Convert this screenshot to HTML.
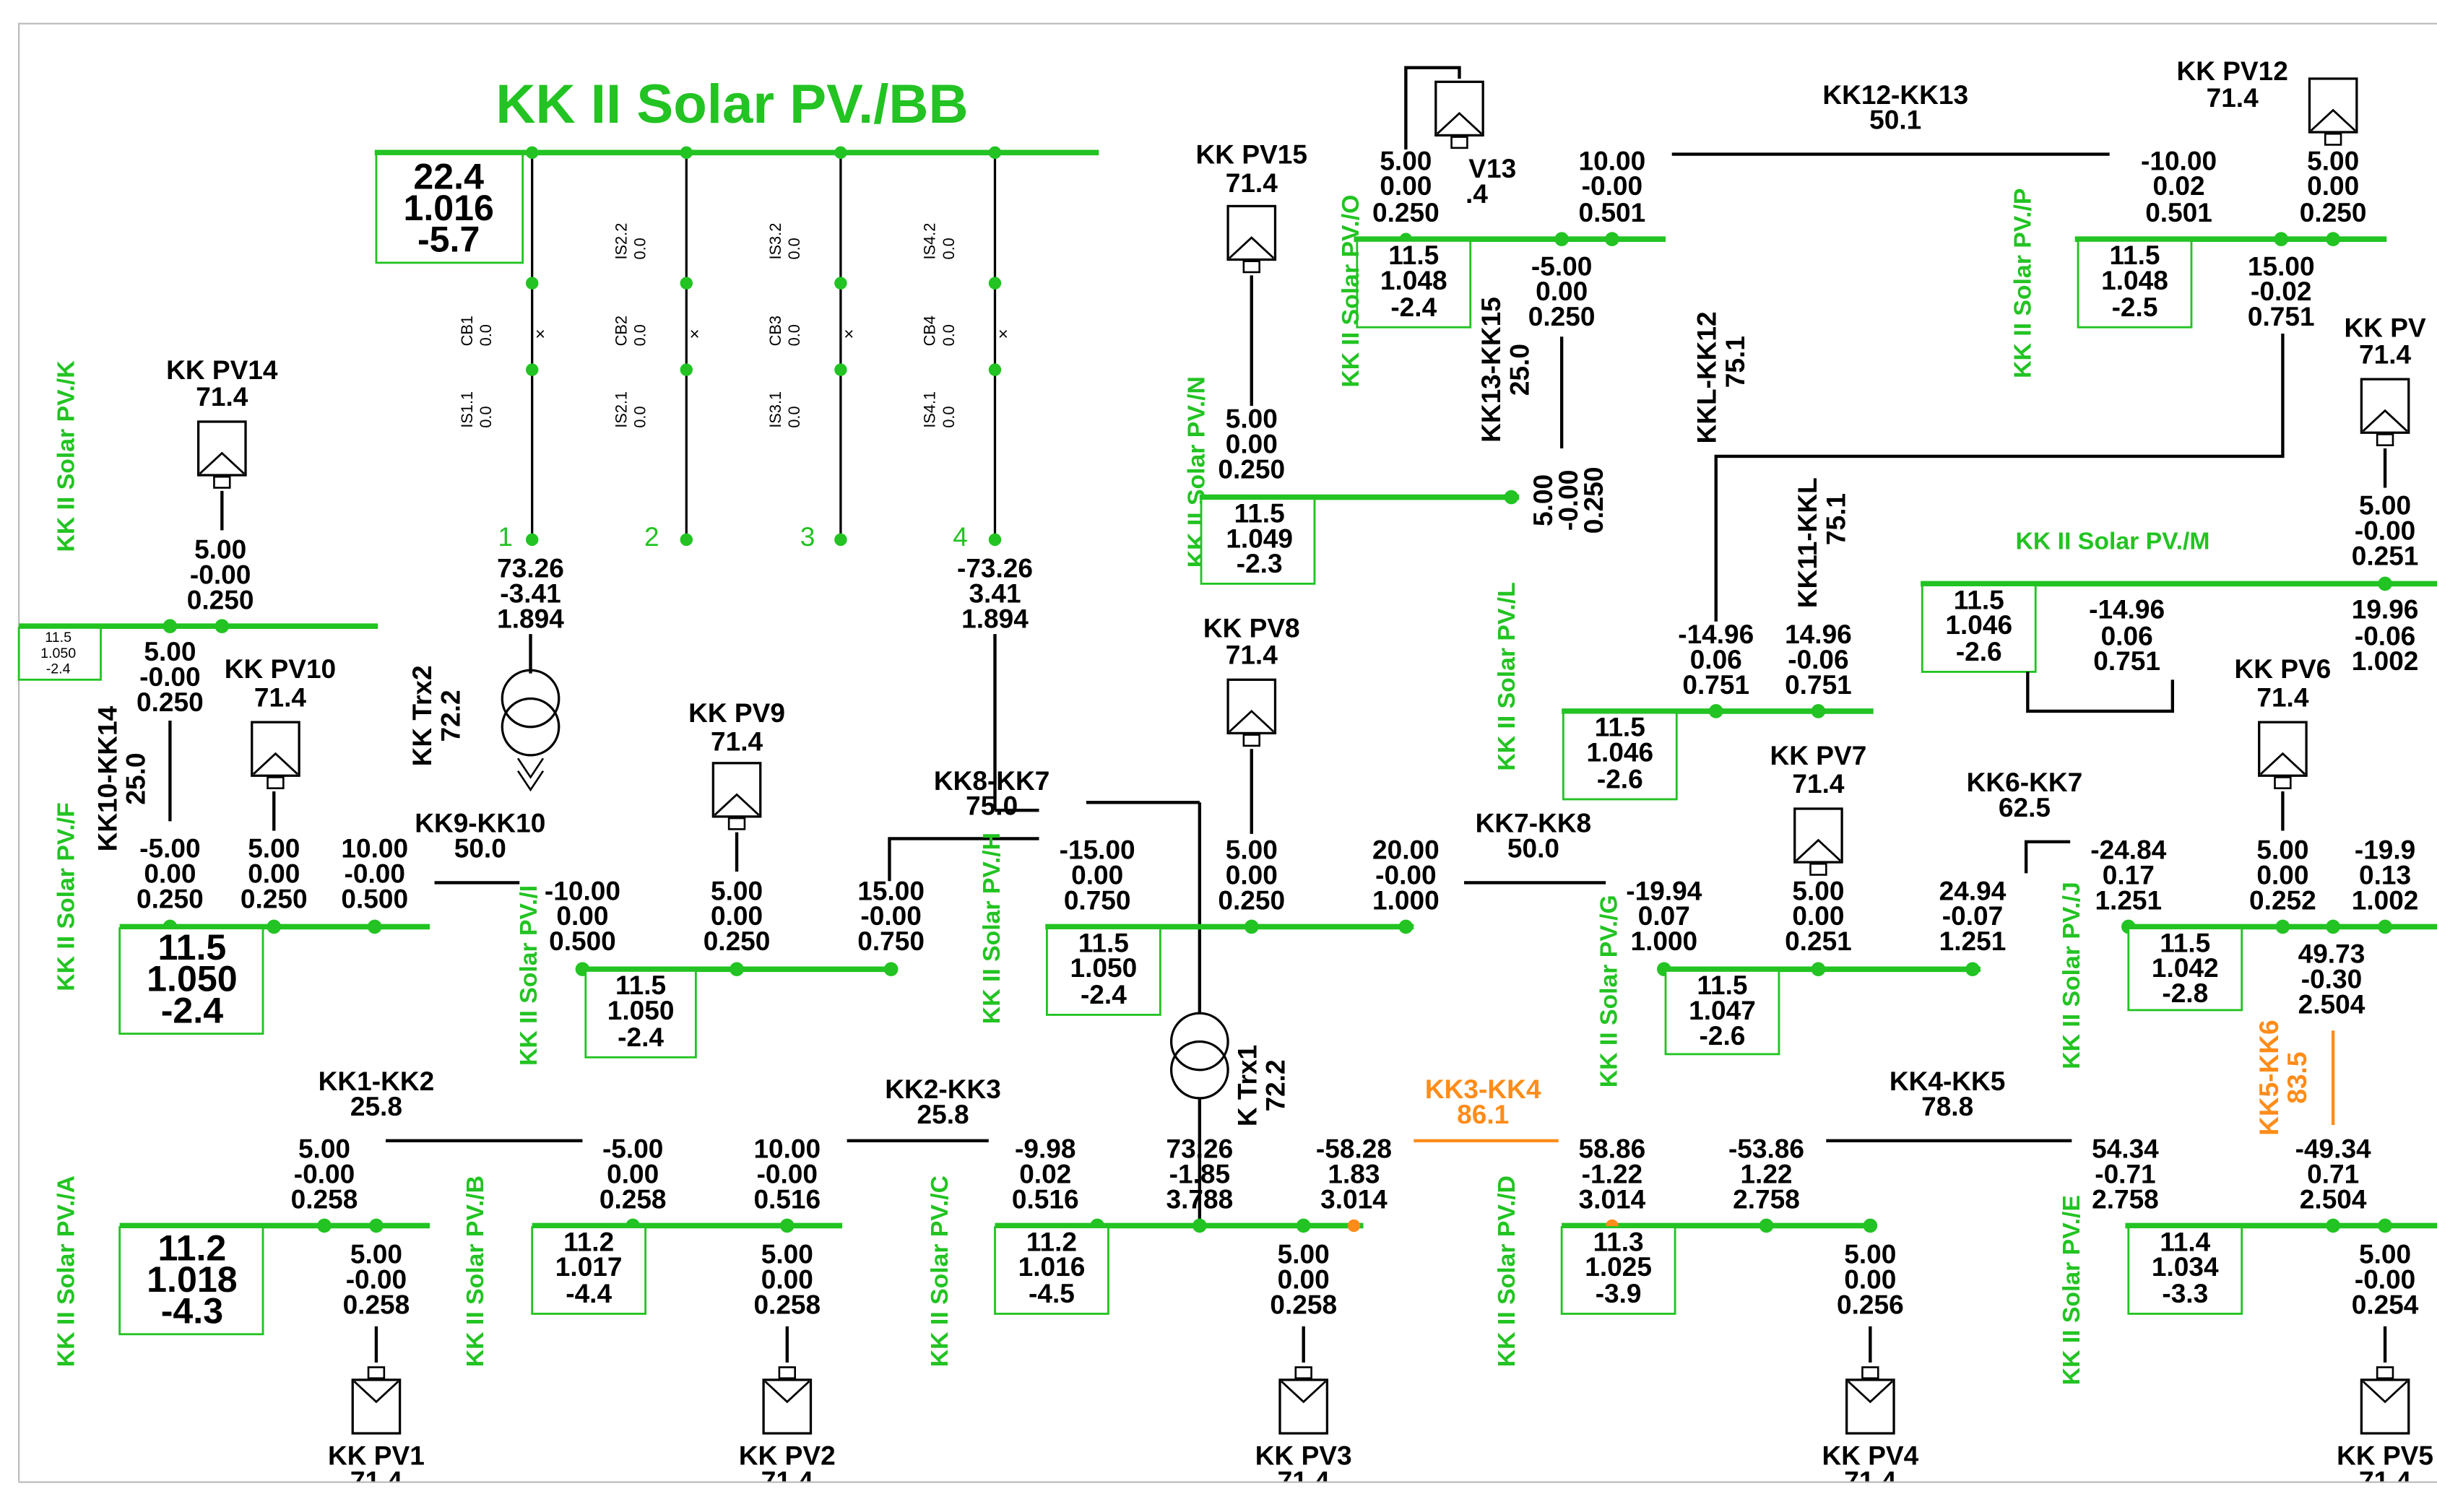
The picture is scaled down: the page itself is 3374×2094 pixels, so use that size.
<!DOCTYPE html>
<html><head><meta charset="utf-8"><style>
html,body{margin:0;padding:0;background:#fff}
svg{display:block}
.t{font-family:"Liberation Sans",sans-serif;font-weight:bold;font-size:17px;text-anchor:middle;fill:#000}
.b{font-size:23px}
.s{font-size:9px}
.g{fill:#22c322}
.o{fill:#ff8c1a}
.r{font-family:"Liberation Sans",sans-serif;font-size:11px;fill:#000}
.v{font-family:"Liberation Sans",sans-serif;font-weight:bold;font-size:15.5px;fill:#22c322;text-anchor:middle}
.bus{stroke:#22c322;stroke-width:3.5}
.k{stroke:#000;stroke-width:2;fill:none}
.bx{stroke:#22c322;stroke-width:1.3;fill:#fff}
.d{fill:#22c322}
</style></head><body>
<svg width="3374" height="2094" viewBox="0 0 1548 961" preserveAspectRatio="none" xmlns="http://www.w3.org/2000/svg">
<defs>
<g id="pv"><rect x="0" y="0" width="30" height="34" fill="#fff" stroke="#000" stroke-width="1.5"/><path d="M1,33 L15,20 L29,33" fill="none" stroke="#000" stroke-width="1.3"/><rect x="10" y="35" width="10" height="7" fill="#fff" stroke="#000" stroke-width="1.2"/></g>
</defs>
<rect x="12" y="15" width="1540" height="927" fill="none" stroke="#bbb" stroke-width="1"/>
<text class="t g" x="465" y="78" style="font-size:35px">KK II Solar PV./BB</text>
<!-- top bus BB -->
<line class="bus" x1="238" y1="97" x2="698" y2="97"/>
<rect class="bx" x="239" y="98" width="93" height="69"/>
<text class="t b" x="285" y="120">22.4</text><text class="t b" x="285" y="140">1.016</text><text class="t b" x="285" y="160">-5.7</text>
<g class="k" style="stroke-width:1.5">
<line x1="338" y1="97" x2="338" y2="343"/><line x1="436" y1="97" x2="436" y2="343"/><line x1="534" y1="97" x2="534" y2="343"/><line x1="632" y1="97" x2="632" y2="343"/>
</g>
<g class="d">
<circle cx="338" cy="97" r="4"/><circle cx="436" cy="97" r="4"/><circle cx="534" cy="97" r="4"/><circle cx="632" cy="97" r="4"/>
<circle cx="338" cy="180" r="4"/><circle cx="436" cy="180" r="4"/><circle cx="534" cy="180" r="4"/><circle cx="632" cy="180" r="4"/>
<circle cx="338" cy="235" r="4"/><circle cx="436" cy="235" r="4"/><circle cx="534" cy="235" r="4"/><circle cx="632" cy="235" r="4"/>
<circle cx="338" cy="343" r="4"/><circle cx="436" cy="343" r="4"/><circle cx="534" cy="343" r="4"/><circle cx="632" cy="343" r="4"/>
</g>
<g class="r"><text x="340" y="216">×</text><text x="438" y="216">×</text><text x="536" y="216">×</text><text x="634" y="216">×</text></g>
<g class="r" style="font-size:10px">
<text transform="translate(300,220) rotate(-90)">CB1</text><text transform="translate(312,220) rotate(-90)">0.0</text>
<text transform="translate(398,220) rotate(-90)">CB2</text><text transform="translate(410,220) rotate(-90)">0.0</text>
<text transform="translate(496,220) rotate(-90)">CB3</text><text transform="translate(508,220) rotate(-90)">0.0</text>
<text transform="translate(594,220) rotate(-90)">CB4</text><text transform="translate(606,220) rotate(-90)">0.0</text>
<text transform="translate(398,165) rotate(-90)">IS2.2</text><text transform="translate(410,165) rotate(-90)">0.0</text>
<text transform="translate(496,165) rotate(-90)">IS3.2</text><text transform="translate(508,165) rotate(-90)">0.0</text>
<text transform="translate(594,165) rotate(-90)">IS4.2</text><text transform="translate(606,165) rotate(-90)">0.0</text>
<text transform="translate(300,272) rotate(-90)">IS1.1</text><text transform="translate(312,272) rotate(-90)">0.0</text>
<text transform="translate(398,272) rotate(-90)">IS2.1</text><text transform="translate(410,272) rotate(-90)">0.0</text>
<text transform="translate(496,272) rotate(-90)">IS3.1</text><text transform="translate(508,272) rotate(-90)">0.0</text>
<text transform="translate(594,272) rotate(-90)">IS4.1</text><text transform="translate(606,272) rotate(-90)">0.0</text>
</g>
<text class="t g" x="321" y="347" style="font-weight:normal">1</text><text class="t g" x="414" y="347" style="font-weight:normal">2</text><text class="t g" x="513" y="347" style="font-weight:normal">3</text><text class="t g" x="610" y="347" style="font-weight:normal">4</text>
<text class="t" x="337" y="367">73.26</text><text class="t" x="337" y="383">-3.41</text><text class="t" x="337" y="399">1.894</text>
<text class="t" x="632" y="367">-73.26</text><text class="t" x="632" y="383">3.41</text><text class="t" x="632" y="399">1.894</text>
<!-- Trx2 -->
<line class="k" x1="337" y1="403" x2="337" y2="428"/>
<circle cx="337" cy="444" r="18" fill="none" stroke="#000" stroke-width="1.5"/><circle cx="337" cy="462" r="18" fill="none" stroke="#000" stroke-width="1.5"/>
<path d="M329,482 L337,494 L345,482 M329,490 L337,502 L345,490" fill="none" stroke="#000" stroke-width="1.2"/>
<text class="t" transform="translate(274,455) rotate(-90)">KK Trx2</text><text class="t" transform="translate(292,455) rotate(-90)">72.2</text>
<!-- KK8-KK7 -->
<path class="k" d="M632,403 L632,515 M632,515 L660,515 M565,560 L565,533 L660,533 M762,510 L762,645 M762,698 L762,779 M690,510 L762,510"/>
<text class="t" x="630" y="502">KK8-KK7</text><text class="t" x="630" y="518">75.0</text>
<circle cx="762" cy="662" r="18" fill="#fff" stroke="#000" stroke-width="1.5"/><circle cx="762" cy="680" r="18" fill="none" stroke="#000" stroke-width="1.5"/>
<text class="t" transform="translate(798,690) rotate(-90)">K Trx1</text><text class="t" transform="translate(816,690) rotate(-90)">72.2</text>

<!-- Left K -->
<text class="v" transform="translate(47,290) rotate(-90)">KK II Solar PV./K</text>
<text class="t" x="141" y="241">KK PV14</text><text class="t" x="141" y="258">71.4</text>
<use href="#pv" x="126" y="268"/><line class="k" x1="141" y1="312" x2="141" y2="337"/>
<text class="t" x="140" y="355">5.00</text><text class="t" x="140" y="371">-0.00</text><text class="t" x="140" y="387">0.250</text>
<line class="bus" x1="12" y1="398" x2="240" y2="398"/><circle class="d" cx="108" cy="398" r="4.5"/><circle class="d" cx="141" cy="398" r="4.5"/>
<rect class="bx" x="12" y="399" width="52" height="33"/>
<text class="t s" x="37" y="408" style="font-weight:normal">11.5</text><text class="t s" x="37" y="418" style="font-weight:normal">1.050</text><text class="t s" x="37" y="428" style="font-weight:normal">-2.4</text>
<text class="t" x="108" y="420">5.00</text><text class="t" x="108" y="436">-0.00</text><text class="t" x="108" y="452">0.250</text>
<line class="k" x1="108" y1="458" x2="108" y2="522"/>
<text class="t" transform="translate(74,495) rotate(-90)">KK10-KK14</text><text class="t" transform="translate(92,495) rotate(-90)">25.0</text>
<text class="t" x="178" y="431">KK PV10</text><text class="t" x="178" y="449">71.4</text>
<use href="#pv" x="160" y="459"/><line class="k" x1="174" y1="503" x2="174" y2="528"/>
<text class="t" x="108" y="545">-5.00</text><text class="t" x="108" y="561">0.00</text><text class="t" x="108" y="577">0.250</text>
<text class="t" x="174" y="545">5.00</text><text class="t" x="174" y="561">0.00</text><text class="t" x="174" y="577">0.250</text>
<text class="t" x="238" y="545">10.00</text><text class="t" x="238" y="561">-0.00</text><text class="t" x="238" y="577">0.500</text>
<text class="t" x="305" y="529">KK9-KK10</text><text class="t" x="305" y="545">50.0</text>
<line class="k" x1="276" y1="561" x2="330" y2="561"/>
<line class="bus" x1="76" y1="589" x2="273" y2="589"/>
<circle class="d" cx="108" cy="589" r="4.5"/><circle class="d" cx="174" cy="589" r="4.5"/><circle class="d" cx="238" cy="589" r="4.5"/>
<rect class="bx" x="76" y="590" width="91" height="67"/>
<text class="t b" x="122" y="610">11.5</text><text class="t b" x="122" y="630">1.050</text><text class="t b" x="122" y="650">-2.4</text>
<text class="v" transform="translate(47,570) rotate(-90)">KK II Solar PV./F</text>

<!-- I -->
<text class="v" transform="translate(341,620) rotate(-90)">KK II Solar PV./I</text>
<text class="t" x="468" y="459">KK PV9</text><text class="t" x="468" y="477">71.4</text>
<use href="#pv" x="453" y="485"/><line class="k" x1="468" y1="529" x2="468" y2="554"/>
<text class="t" x="370" y="572">-10.00</text><text class="t" x="370" y="588">0.00</text><text class="t" x="370" y="604">0.500</text>
<text class="t" x="468" y="572">5.00</text><text class="t" x="468" y="588">0.00</text><text class="t" x="468" y="604">0.250</text>
<text class="t" x="566" y="572">15.00</text><text class="t" x="566" y="588">-0.00</text><text class="t" x="566" y="604">0.750</text>
<line class="bus" x1="368" y1="616" x2="570" y2="616"/>
<circle class="d" cx="370" cy="616" r="4.5"/><circle class="d" cx="468" cy="616" r="4.5"/><circle class="d" cx="566" cy="616" r="4.5"/>
<rect class="bx" x="372" y="617" width="70" height="55"/>
<text class="t" x="407" y="632">11.5</text><text class="t" x="407" y="648">1.050</text><text class="t" x="407" y="665">-2.4</text>

<!-- H -->
<text class="v" transform="translate(635,590) rotate(-90)">KK II Solar PV./H</text>
<text class="t" x="795" y="405">KK PV8</text><text class="t" x="795" y="422">71.4</text>
<use href="#pv" x="780" y="432"/><line class="k" x1="795" y1="476" x2="795" y2="530"/>
<text class="t" x="697" y="546">-15.00</text><text class="t" x="697" y="562">0.00</text><text class="t" x="697" y="578">0.750</text>
<text class="t" x="795" y="546">5.00</text><text class="t" x="795" y="562">0.00</text><text class="t" x="795" y="578">0.250</text>
<text class="t" x="893" y="546">20.00</text><text class="t" x="893" y="562">-0.00</text><text class="t" x="893" y="578">1.000</text>
<line class="bus" x1="664" y1="589" x2="898" y2="589"/>
<circle class="d" cx="795" cy="589" r="4.5"/><circle class="d" cx="893" cy="589" r="4.5"/>
<rect class="bx" x="665" y="590" width="72" height="55"/>
<text class="t" x="701" y="605">11.5</text><text class="t" x="701" y="621">1.050</text><text class="t" x="701" y="638">-2.4</text>

<!-- N -->
<text class="v" transform="translate(765,300) rotate(-90)">KK II Solar PV./N</text>
<text class="t" x="795" y="104">KK PV15</text><text class="t" x="795" y="122">71.4</text>
<use href="#pv" x="780" y="131"/><line class="k" x1="795" y1="175" x2="795" y2="258"/>
<text class="t" x="795" y="272">5.00</text><text class="t" x="795" y="288">0.00</text><text class="t" x="795" y="304">0.250</text>
<line class="bus" x1="762" y1="316" x2="965" y2="316"/><circle class="d" cx="960" cy="316" r="4.5"/>
<rect class="bx" x="763" y="317" width="72" height="54"/>
<text class="t" x="800" y="332">11.5</text><text class="t" x="800" y="348">1.049</text><text class="t" x="800" y="364">-2.3</text>
<text class="t" transform="translate(986,318) rotate(-90)">5.00</text><text class="t" transform="translate(1002,318) rotate(-90)">-0.00</text><text class="t" transform="translate(1018,318) rotate(-90)">0.250</text>

<!-- O top middle -->
<path class="k" d="M893,95 L893,43 L927,43 L927,50"/>
<use href="#pv" x="912" y="52"/>
<text class="t" x="893" y="108">5.00</text><text class="t" x="893" y="124">0.00</text><text class="t" x="893" y="141">0.250</text>
<text class="t" x="948" y="113">V13</text><text class="t" x="938" y="129">.4</text>
<text class="t" x="1024" y="108">10.00</text><text class="t" x="1024" y="124">-0.00</text><text class="t" x="1024" y="141">0.501</text>
<line class="bus" x1="860" y1="152" x2="1058" y2="152"/>
<circle class="d" cx="992" cy="152" r="4.5"/><circle class="d" cx="1024" cy="152" r="4.5"/><circle class="d" cx="893" cy="152" r="4"/>
<rect class="bx" x="862" y="153" width="72" height="55"/>
<text class="t" x="898" y="168">11.5</text><text class="t" x="898" y="184">1.048</text><text class="t" x="898" y="201">-2.4</text>
<text class="v" transform="translate(863,185) rotate(-90)">KK II Solar PV./O</text>
<text class="t" x="992" y="175">-5.00</text><text class="t" x="992" y="191">0.00</text><text class="t" x="992" y="207">0.250</text>
<line class="k" x1="992" y1="214" x2="992" y2="285"/>
<text class="t" transform="translate(953,235) rotate(-90)">KK13-KK15</text><text class="t" transform="translate(971,235) rotate(-90)">25.0</text>
<text class="t" x="1204" y="66">KK12-KK13</text><text class="t" x="1204" y="82">50.1</text>
<line class="k" x1="1062" y1="98" x2="1340" y2="98"/>

<!-- P -->
<text class="t" x="1418" y="51">KK PV12</text><text class="t" x="1418" y="68">71.4</text>
<use href="#pv" x="1467" y="50"/>
<text class="t" x="1384" y="108">-10.00</text><text class="t" x="1384" y="124">0.02</text><text class="t" x="1384" y="141">0.501</text>
<text class="t" x="1482" y="108">5.00</text><text class="t" x="1482" y="124">0.00</text><text class="t" x="1482" y="141">0.250</text>
<line class="bus" x1="1318" y1="152" x2="1516" y2="152"/>
<circle class="d" cx="1449" cy="152" r="4.5"/><circle class="d" cx="1482" cy="152" r="4.5"/>
<rect class="bx" x="1320" y="153" width="72" height="55"/>
<text class="t" x="1356" y="168">11.5</text><text class="t" x="1356" y="184">1.048</text><text class="t" x="1356" y="201">-2.5</text>
<text class="t" x="1449" y="175">15.00</text><text class="t" x="1449" y="191">-0.02</text><text class="t" x="1449" y="207">0.751</text>
<text class="v" transform="translate(1290,180) rotate(-90)">KK II Solar PV./P</text>
<path class="k" d="M1450,212 L1450,290 L1090,290 L1090,395"/>
<text class="t" transform="translate(1090,240) rotate(-90)">KKL-KK12</text><text class="t" transform="translate(1108,230) rotate(-90)">75.1</text>
<text class="t" transform="translate(1154,345) rotate(-90)">KK11-KKL</text><text class="t" transform="translate(1172,330) rotate(-90)">75.1</text>

<!-- L -->
<text class="v" transform="translate(962,430) rotate(-90)">KK II Solar PV./L</text>
<text class="t" x="1090" y="409">-14.96</text><text class="t" x="1090" y="425">0.06</text><text class="t" x="1090" y="441">0.751</text>
<text class="t" x="1155" y="409">14.96</text><text class="t" x="1155" y="425">-0.06</text><text class="t" x="1155" y="441">0.751</text>
<line class="bus" x1="992" y1="452" x2="1190" y2="452"/>
<circle class="d" cx="1090" cy="452" r="4.5"/><circle class="d" cx="1155" cy="452" r="4.5"/>
<rect class="bx" x="993" y="453" width="72" height="55"/>
<text class="t" x="1029" y="468">11.5</text><text class="t" x="1029" y="484">1.046</text><text class="t" x="1029" y="501">-2.6</text>

<!-- M -->
<text class="t" x="1515" y="214">KK PV</text><text class="t" x="1515" y="231">71.4</text>
<use href="#pv" x="1500" y="241"/><line class="k" x1="1515" y1="285" x2="1515" y2="310"/>
<text class="t" x="1515" y="327">5.00</text><text class="t" x="1515" y="343">-0.00</text><text class="t" x="1515" y="359">0.251</text>
<text class="v" x="1342" y="349">KK II Solar PV./M</text>
<line class="bus" x1="1220" y1="371" x2="1548" y2="371"/><circle class="d" cx="1515" cy="371" r="4.5"/>
<rect class="bx" x="1221" y="372" width="72" height="55"/>
<text class="t" x="1257" y="387">11.5</text><text class="t" x="1257" y="403">1.046</text><text class="t" x="1257" y="420">-2.6</text>
<text class="t" x="1351" y="393">-14.96</text><text class="t" x="1351" y="410">0.06</text><text class="t" x="1351" y="426">0.751</text>
<text class="t" x="1515" y="393">19.96</text><text class="t" x="1515" y="410">-0.06</text><text class="t" x="1515" y="426">1.002</text>
<path class="k" d="M1288,427 L1288,452 L1380,452 L1380,432"/>

<!-- G -->
<text class="t" x="974" y="529">KK7-KK8</text><text class="t" x="974" y="545">50.0</text>
<line class="k" x1="930" y1="561" x2="1020" y2="561"/>
<text class="v" transform="translate(1027,630) rotate(-90)">KK II Solar PV./G</text>
<text class="t" x="1155" y="486">KK PV7</text><text class="t" x="1155" y="504">71.4</text>
<use href="#pv" x="1140" y="514"/>
<text class="t" x="1057" y="572">-19.94</text><text class="t" x="1057" y="588">0.07</text><text class="t" x="1057" y="604">1.000</text>
<text class="t" x="1155" y="572">5.00</text><text class="t" x="1155" y="588">0.00</text><text class="t" x="1155" y="604">0.251</text>
<text class="t" x="1253" y="572">24.94</text><text class="t" x="1253" y="588">-0.07</text><text class="t" x="1253" y="604">1.251</text>
<line class="bus" x1="1055" y1="616" x2="1258" y2="616"/>
<circle class="d" cx="1057" cy="616" r="4.5"/><circle class="d" cx="1155" cy="616" r="4.5"/><circle class="d" cx="1253" cy="616" r="4.5"/>
<rect class="bx" x="1058" y="617" width="72" height="53"/>
<text class="t" x="1094" y="632">11.5</text><text class="t" x="1094" y="648">1.047</text><text class="t" x="1094" y="664">-2.6</text>

<!-- K6 region -->
<text class="t" x="1286" y="503">KK6-KK7</text><text class="t" x="1286" y="519">62.5</text>
<path class="k" d="M1287,555 L1287,535 L1315,535"/>
<text class="v" transform="translate(1321,620) rotate(-90)">KK II Solar PV./J</text>
<text class="t" x="1450" y="431">KK PV6</text><text class="t" x="1450" y="449">71.4</text>
<use href="#pv" x="1435" y="459"/><line class="k" x1="1450" y1="503" x2="1450" y2="528"/>
<text class="t" x="1352" y="546">-24.84</text><text class="t" x="1352" y="562">0.17</text><text class="t" x="1352" y="578">1.251</text>
<text class="t" x="1450" y="546">5.00</text><text class="t" x="1450" y="562">0.00</text><text class="t" x="1450" y="578">0.252</text>
<text class="t" x="1515" y="546">-19.9</text><text class="t" x="1515" y="562">0.13</text><text class="t" x="1515" y="578">1.002</text>
<line class="bus" x1="1350" y1="589" x2="1548" y2="589"/>
<circle class="d" cx="1352" cy="589" r="4.5"/><circle class="d" cx="1450" cy="589" r="4.5"/><circle class="d" cx="1482" cy="589" r="4.5"/><circle class="d" cx="1515" cy="589" r="4.5"/>
<rect class="bx" x="1352" y="590" width="72" height="52"/>
<text class="t" x="1388" y="605">11.5</text><text class="t" x="1388" y="621">1.042</text><text class="t" x="1388" y="637">-2.8</text>
<text class="t" x="1481" y="612">49.73</text><text class="t" x="1481" y="628">-0.30</text><text class="t" x="1481" y="644">2.504</text>
<text class="t o" transform="translate(1447,685) rotate(-90)">KK5-KK6</text><text class="t o" transform="translate(1465,685) rotate(-90)">83.5</text>
<line x1="1482" y1="655" x2="1482" y2="715" stroke="#ff8c1a" stroke-width="2"/>

<!-- bottom row -->
<text class="t" x="239" y="693">KK1-KK2</text><text class="t" x="239" y="709">25.8</text>
<line class="k" x1="245" y1="725" x2="370" y2="725"/>
<text class="t" x="599" y="698">KK2-KK3</text><text class="t" x="599" y="714">25.8</text>
<line class="k" x1="538" y1="725" x2="628" y2="725"/>
<text class="t o" x="942" y="698">KK3-KK4</text><text class="t o" x="942" y="714">86.1</text>
<line x1="898" y1="725" x2="990" y2="725" stroke="#ff8c1a" stroke-width="2"/>
<text class="t" x="1237" y="693">KK4-KK5</text><text class="t" x="1237" y="709">78.8</text>
<line class="k" x1="1160" y1="725" x2="1316" y2="725"/>

<text class="t" x="206" y="736">5.00</text><text class="t" x="206" y="752">-0.00</text><text class="t" x="206" y="768">0.258</text>
<text class="t" x="402" y="736">-5.00</text><text class="t" x="402" y="752">0.00</text><text class="t" x="402" y="768">0.258</text>
<text class="t" x="500" y="736">10.00</text><text class="t" x="500" y="752">-0.00</text><text class="t" x="500" y="768">0.516</text>
<text class="t" x="664" y="736">-9.98</text><text class="t" x="664" y="752">0.02</text><text class="t" x="664" y="768">0.516</text>
<text class="t" x="762" y="736">73.26</text><text class="t" x="762" y="752">-1.85</text><text class="t" x="762" y="768">3.788</text>
<text class="t" x="860" y="736">-58.28</text><text class="t" x="860" y="752">1.83</text><text class="t" x="860" y="768">3.014</text>
<text class="t" x="1024" y="736">58.86</text><text class="t" x="1024" y="752">-1.22</text><text class="t" x="1024" y="768">3.014</text>
<text class="t" x="1122" y="736">-53.86</text><text class="t" x="1122" y="752">1.22</text><text class="t" x="1122" y="768">2.758</text>
<text class="t" x="1350" y="736">54.34</text><text class="t" x="1350" y="752">-0.71</text><text class="t" x="1350" y="768">2.758</text>
<text class="t" x="1482" y="736">-49.34</text><text class="t" x="1482" y="752">0.71</text><text class="t" x="1482" y="768">2.504</text>

<line class="bus" x1="76" y1="779" x2="273" y2="779"/>
<line class="bus" x1="338" y1="779" x2="535" y2="779"/>
<line class="bus" x1="632" y1="779" x2="866" y2="779"/>
<line class="bus" x1="992" y1="779" x2="1190" y2="779"/>
<line class="bus" x1="1350" y1="779" x2="1548" y2="779"/>
<g class="d">
<circle cx="206" cy="779" r="4.5"/><circle cx="239" cy="779" r="4.5"/><circle cx="402" cy="779" r="4.5"/><circle cx="500" cy="779" r="4.5"/>
<circle cx="697" cy="779" r="4.5"/><circle cx="762" cy="779" r="4.5"/><circle cx="828" cy="779" r="4.5"/>
<circle cx="1122" cy="779" r="4.5"/><circle cx="1188" cy="779" r="4.5"/><circle cx="1482" cy="779" r="4.5"/><circle cx="1515" cy="779" r="4.5"/>
</g>
<circle cx="860" cy="779" r="4" fill="#ff8c1a"/><circle cx="1024" cy="779" r="4" fill="#ff8c1a"/>
<rect class="bx" x="76" y="780" width="91" height="68"/>
<text class="t b" x="122" y="801">11.2</text><text class="t b" x="122" y="821">1.018</text><text class="t b" x="122" y="841">-4.3</text>
<rect class="bx" x="338" y="780" width="72" height="55"/>
<text class="t" x="374" y="795">11.2</text><text class="t" x="374" y="811">1.017</text><text class="t" x="374" y="828">-4.4</text>
<rect class="bx" x="632" y="780" width="72" height="55"/>
<text class="t" x="668" y="795">11.2</text><text class="t" x="668" y="811">1.016</text><text class="t" x="668" y="828">-4.5</text>
<rect class="bx" x="992" y="780" width="72" height="55"/>
<text class="t" x="1028" y="795">11.3</text><text class="t" x="1028" y="811">1.025</text><text class="t" x="1028" y="828">-3.9</text>
<rect class="bx" x="1352" y="780" width="72" height="55"/>
<text class="t" x="1388" y="795">11.4</text><text class="t" x="1388" y="811">1.034</text><text class="t" x="1388" y="828">-3.3</text>

<text class="v" transform="translate(47,808) rotate(-90)">KK II Solar PV./A</text>
<text class="v" transform="translate(307,808) rotate(-90)">KK II Solar PV./B</text>
<text class="v" transform="translate(602,808) rotate(-90)">KK II Solar PV./C</text>
<text class="v" transform="translate(962,808) rotate(-90)">KK II Solar PV./D</text>
<text class="v" transform="translate(1321,820) rotate(-90)">KK II Solar PV./E</text>

<text class="t" x="239" y="803">5.00</text><text class="t" x="239" y="819">-0.00</text><text class="t" x="239" y="835">0.258</text>
<text class="t" x="500" y="803">5.00</text><text class="t" x="500" y="819">0.00</text><text class="t" x="500" y="835">0.258</text>
<text class="t" x="828" y="803">5.00</text><text class="t" x="828" y="819">0.00</text><text class="t" x="828" y="835">0.258</text>
<text class="t" x="1188" y="803">5.00</text><text class="t" x="1188" y="819">0.00</text><text class="t" x="1188" y="835">0.256</text>
<text class="t" x="1515" y="803">5.00</text><text class="t" x="1515" y="819">-0.00</text><text class="t" x="1515" y="835">0.254</text>
<g class="k">
<line x1="239" y1="843" x2="239" y2="866"/><line x1="500" y1="843" x2="500" y2="866"/><line x1="828" y1="843" x2="828" y2="866"/><line x1="1188" y1="843" x2="1188" y2="866"/><line x1="1515" y1="843" x2="1515" y2="866"/>
</g>
<use href="#pv" transform="translate(254,911) rotate(180)"/>
<use href="#pv" transform="translate(515,911) rotate(180)"/>
<use href="#pv" transform="translate(843,911) rotate(180)"/>
<use href="#pv" transform="translate(1203,911) rotate(180)"/>
<use href="#pv" transform="translate(1530,911) rotate(180)"/>
<text class="t" x="239" y="931">KK PV1</text><text class="t" x="239" y="947">71.4</text>
<text class="t" x="500" y="931">KK PV2</text><text class="t" x="500" y="947">71.4</text>
<text class="t" x="828" y="931">KK PV3</text><text class="t" x="828" y="947">71.4</text>
<text class="t" x="1188" y="931">KK PV4</text><text class="t" x="1188" y="947">71.4</text>
<text class="t" x="1515" y="931">KK PV5</text><text class="t" x="1515" y="947">71.4</text>
<rect x="0" y="942" width="1548" height="20" fill="#fff"/>
<line x1="12" y1="942" x2="1548" y2="942" stroke="#bbb" stroke-width="1"/>
</svg>
</body></html>
